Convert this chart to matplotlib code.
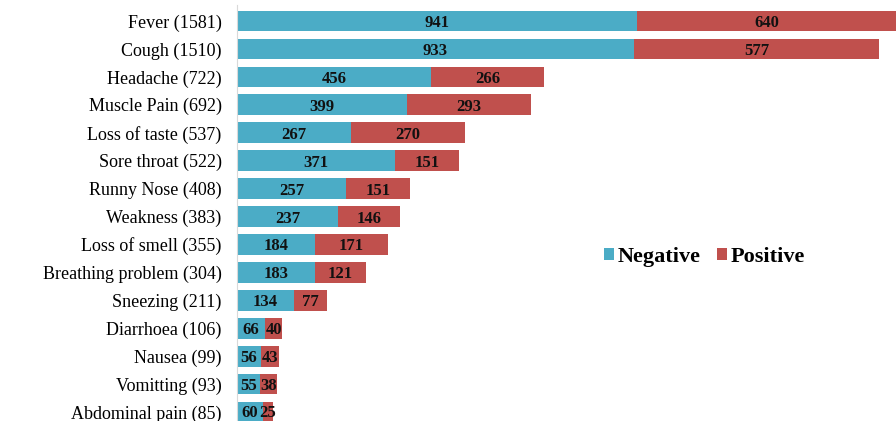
import numpy as np
import matplotlib.pyplot as plt

symptoms = ['Fever (1581)', 'Cough (1510)', 'Headache (722)', 'Muscle Pain (692)',
            'Loss of taste (537)', 'Sore throat (522)', 'Runny Nose (408)',
            'Weakness (383)', 'Loss of smell (355)', 'Breathing problem (304)',
            'Sneezing (211)', 'Diarrhoea (106)', 'Nausea (99)', 'Vomitting (93)',
            'Abdominal pain (85)']
negative = [941, 933, 456, 399, 267, 371, 257, 237, 184, 183, 134, 66, 56, 55, 60]
positive = [640, 577, 266, 293, 270, 151, 151, 146, 171, 121, 77, 40, 43, 38, 25]

blue = '#4BACC6'
red = '#C0504D'

fig = plt.figure(figsize=(8.96, 4.21), dpi=100)
ax = fig.add_axes([237 / 896, 0, 1 - 237 / 896, 1 - 5 / 421])

y = np.arange(len(symptoms))
b1 = ax.barh(y, negative, height=0.74, color=blue, label='Negative')
b2 = ax.barh(y, positive, left=negative, height=0.74, color=red, label='Positive')

for bars in (b1, b2):
    texts = ax.bar_label(bars, label_type='center', fontsize=12, fontweight='bold',
                         family='Liberation Serif', color='#111111')
    for t in texts:
        t.set_va('center_baseline')

ax.set_yticks(y)
ax.set_yticklabels(symptoms, family='Liberation Serif', fontsize=13)
ax.tick_params(axis='y', length=0, pad=11)
ax.set_xticks([])
ax.set_xlim(0, 1550)
ax.set_ylim(14.32, -0.573)

for s in ['top', 'right', 'bottom']:
    ax.spines[s].set_visible(False)
ax.spines['left'].set_color('#d9d9d9')

ax.legend(loc='center left', bbox_to_anchor=(0.526, 0.395), ncol=2, frameon=False,
          handlelength=0.45, handleheight=0.45, handletextpad=0.2, columnspacing=0.7,
          prop={'family': 'Liberation Serif', 'weight': 'bold', 'size': 16})

fig.savefig('out.png', dpi=100)
